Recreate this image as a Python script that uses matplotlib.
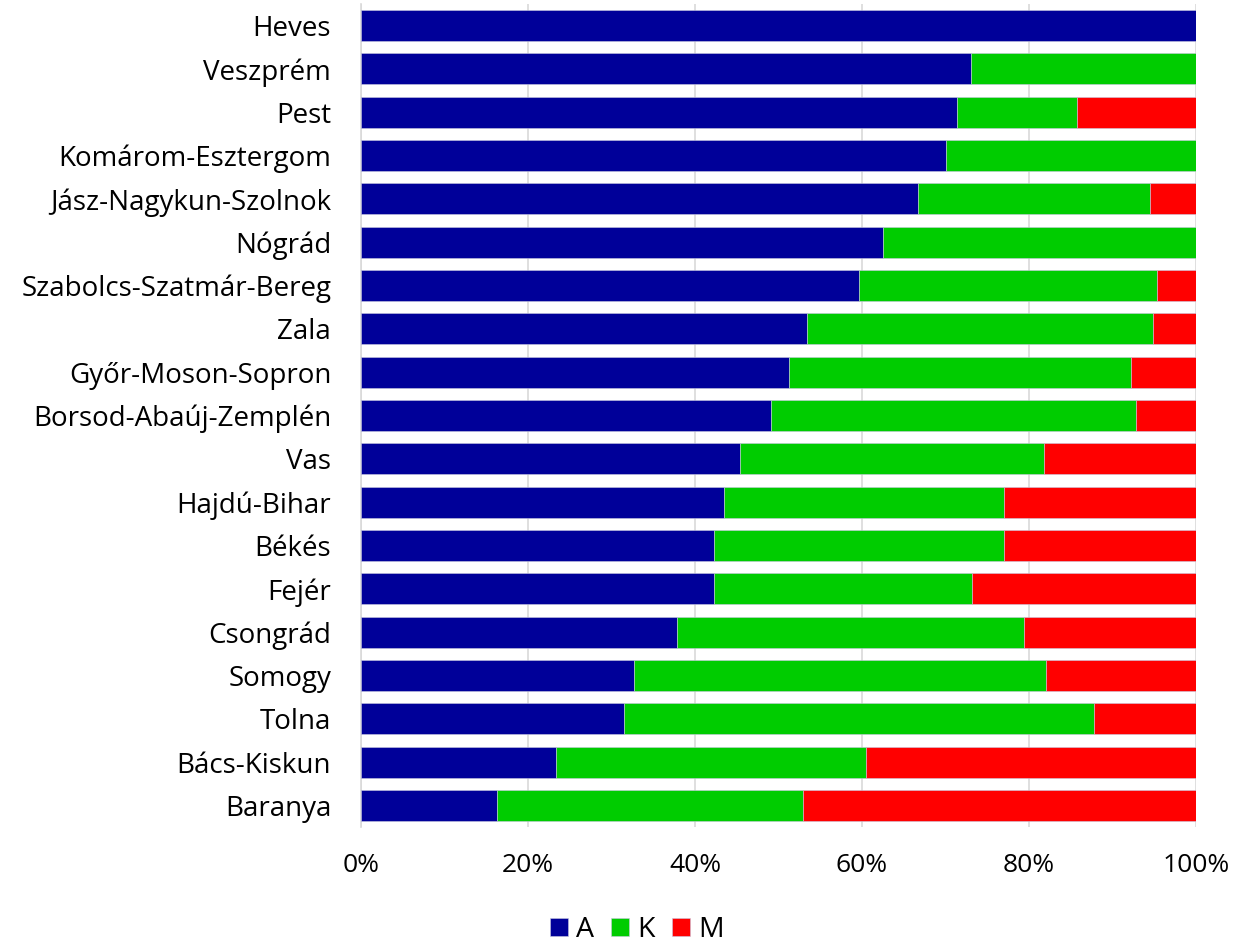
import matplotlib
matplotlib.use("Agg")
import matplotlib.pyplot as plt
import numpy as np

counties = ["Heves", "Veszprém", "Pest", "Komárom-Esztergom", "Jász-Nagykun-Szolnok",
            "Nógrád", "Szabolcs-Szatmár-Bereg", "Zala", "Győr-Moson-Sopron",
            "Borsod-Abaúj-Zemplén", "Vas", "Hajdú-Bihar", "Békés", "Fejér",
            "Csongrád", "Somogy", "Tolna", "Bács-Kiskun", "Baranya"]
A = [100.0, 73.1, 71.4, 70.0, 66.7, 62.5, 59.6, 53.4, 51.3, 49.1, 45.4, 43.5, 42.3, 42.3,
     37.8, 32.7, 31.5, 23.4, 16.3]
K = [0.0, 26.9, 14.3, 30.0, 27.8, 37.5, 35.7, 41.5, 40.9, 43.7, 36.4, 33.5, 34.7, 30.9,
     41.6, 49.3, 56.3, 37.1, 36.6]
M = [0.0, 0.0, 14.3, 0.0, 5.5, 0.0, 4.7, 5.1, 7.8, 7.2, 18.2, 23.0, 23.0, 26.8,
     20.6, 18.0, 12.2, 39.5, 47.1]
series_names = ["A", "K", "M"]
colors = ["#000099", "#00CC00", "#FF0000"]
xtick_labels = ["0%", "20%", "40%", "60%", "80%", "100%"]

plt.rcParams['font.family'] = ['Open Sans', 'DejaVu Sans']
fig = plt.figure(figsize=(12.58, 9.49), dpi=100)
ax = fig.add_axes([361/1258, 1 - 827/949, (1196-361)/1258, (827-4)/949])

y = np.arange(len(counties))
left = np.zeros(len(counties))
for vals, name, c in zip([A, K, M], series_names, colors):
    v = np.array(vals)
    ax.barh(y, v, left=left, height=0.715, color=c, label=name,
            edgecolor="#c8c8e0", linewidth=0.4, zorder=3)
    left += v

ax.set_ylim(len(counties) - 0.5, -0.5)
ax.set_xlim(0, 100)
ax.set_xticks([0, 20, 40, 60, 80, 100])
ax.set_xticklabels(xtick_labels, fontsize=19)
ax.set_yticks(y)
ax.set_yticklabels(counties, fontsize=20)
ax.tick_params(axis='both', length=0)
ax.tick_params(axis='y', pad=21.5)
ax.tick_params(axis='x', pad=19)
ax.grid(axis='x', color="#d9d9d9", linewidth=1.2, zorder=0)
for s in ["top", "right", "bottom"]:
    ax.spines[s].set_visible(False)
ax.spines["left"].set_color("#d9d9d9")
ax.spines["left"].set_linewidth(1.2)

fig.legend(loc="center", bbox_to_anchor=(637/1258, 1 - 930/949), ncol=3, frameon=False,
           fontsize=20.5, handlelength=0.62, handleheight=0.62, handletextpad=0.3,
           columnspacing=0.6)

fig.savefig("out.png", dpi=100)
